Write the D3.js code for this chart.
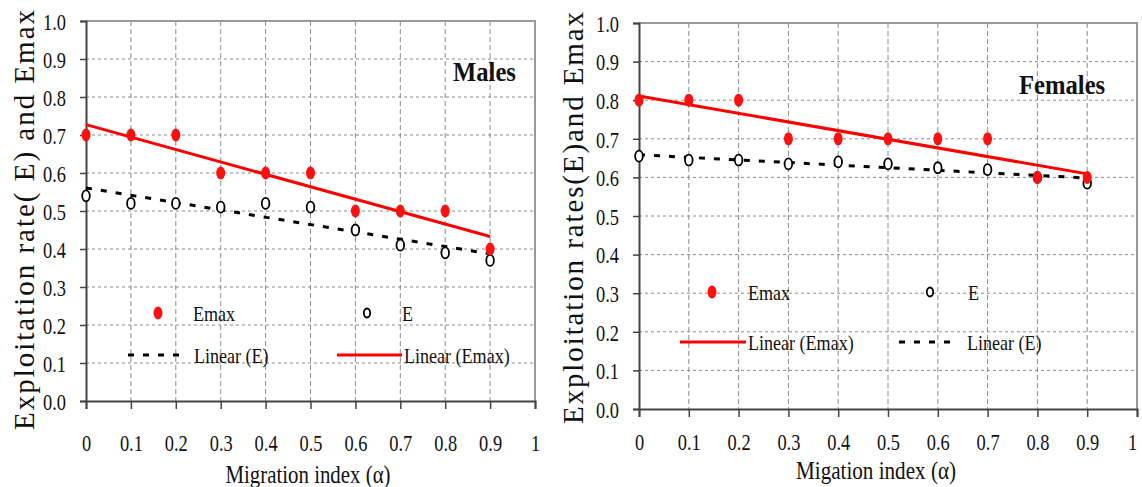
<!DOCTYPE html>
<html>
<head>
<meta charset="utf-8">
<script src="https://cdn.jsdelivr.net/npm/d3@7"></script>
<style>
  body { margin: 0; background: #fff; }
  svg { display: block; }
  svg text { font-family: "Liberation Serif", "Times New Roman", serif !important; }
</style>
</head>
<body>
<svg class="chart"></svg>
<script>
// exploitation rate vs migration index, two panels (males / females)
const width = 1142
const height = 487

// data
const alpha = [0, 0.1, 0.2, 0.3, 0.4, 0.5, 0.6, 0.7, 0.8, 0.9]
const malesEmax = [0.70, 0.70, 0.70, 0.60, 0.60, 0.60, 0.50, 0.50, 0.50, 0.40]
const malesE = [0.54, 0.52, 0.52, 0.51, 0.52, 0.51, 0.45, 0.41, 0.39, 0.37]
const femalesEmax = [0.80, 0.80, 0.80, 0.70, 0.70, 0.70, 0.70, 0.70, 0.60, 0.60]
const femalesE = [0.655, 0.645, 0.645, 0.635, 0.64, 0.635, 0.625, 0.62, 0.60, 0.585]

const xTicks = [0, 0.1, 0.2, 0.3, 0.4, 0.5, 0.6, 0.7, 0.8, 0.9, 1]
const yTicks = [0, 0.1, 0.2, 0.3, 0.4, 0.5, 0.6, 0.7, 0.8, 0.9, 1.0]

const svg = d3.select('svg.chart')
  .attr('width', width)
  .attr('height', height)

// least squares trend line (the "Linear (...)" series)
function fit(xs, ys) {
  const mx = d3.mean(xs), my = d3.mean(ys)
  let sxy = 0, sxx = 0
  xs.forEach((x, i) => { sxy += (x - mx) * (ys[i] - my); sxx += (x - mx) * (x - mx) })
  const slope = sxy / sxx
  return { slope: slope, icept: my - slope * mx }
}

// the original text is narrow (squeezed scan), so squeeze glyphs a bit
function squeeze(sel, k) {
  sel.each(function () {
    const w = this.getComputedTextLength()
    d3.select(this).attr('textLength', w * k).attr('lengthAdjust', 'spacingAndGlyphs')
  })
}

function drawPanel(cfg) {
  const g = svg.append('g')
  const x = d3.scaleLinear().domain([0, 1]).range([cfg.left, cfg.right])
  const y = d3.scaleLinear().domain([0, 1]).range([cfg.bottom, cfg.top])

  // grid
  g.selectAll('line.hgrid').data(yTicks.slice(1)).enter()
    .append('line')
    .attr('x1', cfg.left).attr('x2', cfg.right)
    .attr('y1', d => y(d)).attr('y2', d => y(d))
    .attr('stroke', '#8a8a8a').attr('stroke-width', 1).attr('stroke-dasharray', '3,3')
  g.selectAll('line.vgrid').data(xTicks.slice(1, -1)).enter()
    .append('line')
    .attr('x1', d => x(d)).attr('x2', d => x(d))
    .attr('y1', cfg.top).attr('y2', cfg.bottom)
    .attr('stroke', '#8a8a8a').attr('stroke-width', 1).attr('stroke-dasharray', '5,3')

  // frame top / right
  g.append('path')
    .attr('d', `M${cfg.left},${cfg.top}H${cfg.right}V${cfg.bottom}`)
    .attr('fill', 'none').attr('stroke', '#9a9a9a').attr('stroke-width', 2)

  // axes
  const yAxis = d3.axisLeft(y).tickValues(yTicks).tickSize(6).tickFormat(d3.format('.1f'))
  const yg = g.append('g').attr('transform', `translate(${cfg.left},0)`).call(yAxis)
  yg.attr('font-family', null).attr('font-size', null)
  yg.select('.domain').attr('stroke', '#444').attr('stroke-width', 2)
  yg.selectAll('.tick line').attr('stroke', '#444').attr('stroke-width', 1.5)
  yg.selectAll('.tick text')
    .attr('x', -20).attr('dy', '0.36em')
    .attr('font-size', 23).attr('fill', '#111')
    .call(squeeze, 0.8)

  const xAxis = d3.axisBottom(x).tickValues(xTicks).tickSize(8).tickFormat(d => d3.format('')(d))
  const xg = g.append('g').attr('transform', `translate(0,${cfg.bottom})`).call(xAxis)
  xg.attr('font-family', null).attr('font-size', null)
  xg.select('.domain').attr('stroke', '#444').attr('stroke-width', 2)
  xg.selectAll('.tick line').attr('stroke', '#444').attr('stroke-width', 1.5)
  xg.selectAll('.tick text')
    .attr('y', cfg.xLabelY - cfg.bottom).attr('dy', '0.36em')
    .attr('font-size', 23).attr('fill', '#111')
    .call(squeeze, 0.8)
  // keep the last label inside the page
  xg.selectAll('.tick text').filter(d => x(d) + 8 > width)
    .attr('x', -5)

  // trend lines
  const fE = fit(alpha, cfg.E)
  const fEmax = fit(alpha, cfg.Emax)
  g.append('line')
    .attr('x1', x(0)).attr('x2', x(0.9))
    .attr('y1', y(fE.icept)).attr('y2', y(fE.icept + fE.slope * 0.9))
    .attr('stroke', '#000').attr('stroke-width', 3).attr('stroke-dasharray', '6,9')
  g.append('line')
    .attr('x1', x(0)).attr('x2', x(0.9))
    .attr('y1', y(fEmax.icept)).attr('y2', y(fEmax.icept + fEmax.slope * 0.9))
    .attr('stroke', '#ff0000').attr('stroke-width', 3)

  // points
  g.selectAll('ellipse.e').data(cfg.E).enter()
    .append('ellipse')
    .attr('cx', (d, i) => x(alpha[i])).attr('cy', d => y(d))
    .attr('rx', 3.8).attr('ry', 5.5)
    .attr('fill', '#fff').attr('stroke', '#000').attr('stroke-width', 1.8)
  g.selectAll('ellipse.emax').data(cfg.Emax).enter()
    .append('ellipse')
    .attr('cx', (d, i) => x(alpha[i])).attr('cy', d => y(d))
    .attr('rx', 4.5).attr('ry', 6.5)
    .attr('fill', '#ff1010')

  // panel title
  g.append('text')
    .attr('x', cfg.titleX).attr('y', cfg.titleY)
    .attr('font-size', 28).attr('font-weight', 'bold').attr('fill', '#111')
    .text(cfg.title)
    .call(squeeze, 0.88)

  // axis titles
  g.append('text')
    .attr('transform', `translate(${cfg.yTitleX},${cfg.yTitleMid}) rotate(-90)`)
    .attr('text-anchor', 'middle').attr('dy', '0.35em')
    .attr('font-size', 29).attr('fill', '#111')
    .attr('textLength', cfg.yTitleLen).attr('lengthAdjust', 'spacing')
    .text(cfg.yTitle)
  g.append('text')
    .attr('x', cfg.xTitleX).attr('y', cfg.xTitleY)
    .attr('text-anchor', 'middle').attr('dy', '0.35em')
    .attr('font-size', 25).attr('fill', '#111')
    .attr('textLength', cfg.xTitleLen).attr('lengthAdjust', 'spacingAndGlyphs')
    .text(cfg.xTitle)

  // legend
  const L = cfg.legend
  const lg = g.append('g').attr('font-size', 22).attr('fill', '#111')
  lg.append('ellipse').attr('cx', L.emaxDot[0]).attr('cy', L.row1)
    .attr('rx', 4.5).attr('ry', 6.5).attr('fill', '#ff1010')
  lg.append('text').attr('x', L.emaxDot[1]).attr('y', L.row1).attr('dy', '0.35em').text('Emax')
  lg.append('ellipse').attr('cx', L.eDot[0]).attr('cy', L.row1)
    .attr('rx', 3.2).attr('ry', 4.5).attr('fill', '#fff').attr('stroke', '#000').attr('stroke-width', 1.8)
  lg.append('text').attr('x', L.eDot[1]).attr('y', L.row1).attr('dy', '0.35em').text('E')

  lg.append('line').attr('x1', L.eLine[0]).attr('x2', L.eLine[1])
    .attr('y1', L.row2).attr('y2', L.row2)
    .attr('stroke', '#000').attr('stroke-width', 3).attr('stroke-dasharray', '6,9')
  lg.append('text').attr('x', L.eLine[2]).attr('y', L.row2).attr('dy', '0.35em').text('Linear (E)')
  lg.append('line').attr('x1', L.emaxLine[0]).attr('x2', L.emaxLine[1])
    .attr('y1', L.row2).attr('y2', L.row2)
    .attr('stroke', '#ff0000').attr('stroke-width', 3)
  lg.append('text').attr('x', L.emaxLine[2]).attr('y', L.row2).attr('dy', '0.35em').text('Linear (Emax)')
  lg.selectAll('text').call(squeeze, 0.82)
}

drawPanel({
  left: 86, right: 535, top: 21, bottom: 401, xLabelY: 443,
  Emax: malesEmax, E: malesE,
  title: 'Males', titleX: 453, titleY: 81,
  yTitle: 'Exploitation rate( E) and Emax', yTitleX: 24, yTitleMid: 220, yTitleLen: 420,
  xTitle: 'Migration index (α)', xTitleX: 308, xTitleY: 474, xTitleLen: 165,
  legend: { row1: 313, row2: 355, emaxDot: [158, 193], eDot: [367, 402],
            eLine: [128, 188, 194], emaxLine: [337, 402, 404] }
})

drawPanel({
  left: 639, right: 1137, top: 23, bottom: 409, xLabelY: 442,
  Emax: femalesEmax, E: femalesE,
  title: 'Females', titleX: 1019, titleY: 94,
  yTitle: 'Exploitation rates(E)and Emax', yTitleX: 573, yTitleMid: 218, yTitleLen: 412,
  xTitle: 'Migation index (α)', xTitleX: 876, xTitleY: 470, xTitleLen: 160,
  legend: { row1: 292, row2: 342, emaxDot: [712, 748], eDot: [930, 968],
            eLine: [899, 950, 967], emaxLine: [680, 746, 748] }
})
</script>
</body>
</html>
